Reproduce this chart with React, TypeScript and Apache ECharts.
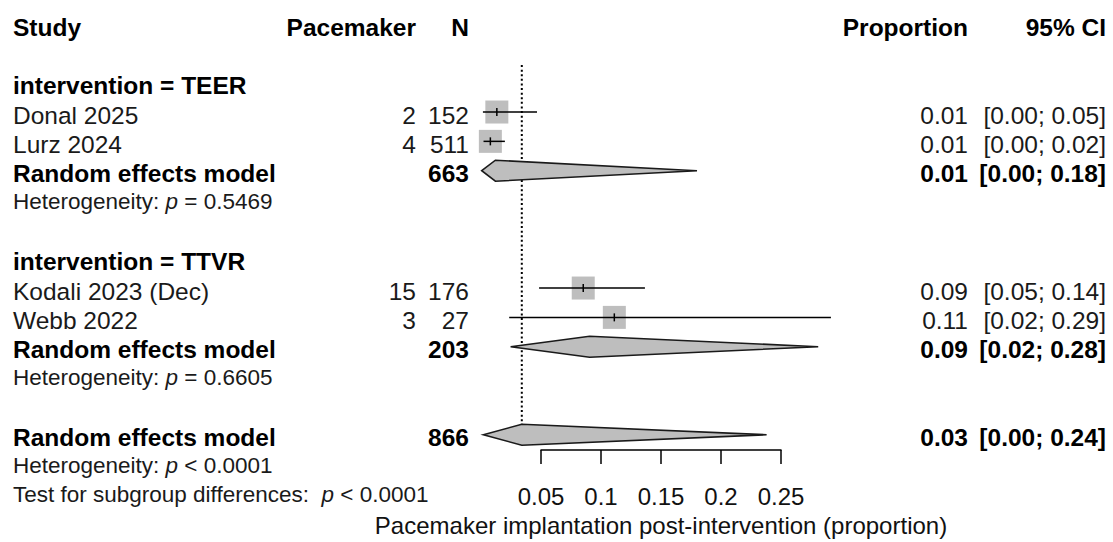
import React, { useEffect, useRef } from "react";
import * as echarts from "echarts";

// ---------- data ----------
const headerLabels = ["Study", "Pacemaker", "N", "Proportion", "95% CI"];
const headerRow = 1;

const groupLabels = ["intervention = TEER", "intervention = TTVR"];
const groupRows = [3, 9];

const studyNames = ["Donal 2025", "Lurz 2024", "Kodali 2023 (Dec)", "Webb 2022"];
const studyEvents = [2, 4, 15, 3];
const studyTotals = [152, 511, 176, 27];
const studyProps = [0.0132, 0.0078, 0.0852, 0.1111];
const studyLower = [0.0016, 0.0021, 0.0484, 0.0235];
const studyUpper = [0.0467, 0.0199, 0.1366, 0.2916];
const studyRows = [4, 5, 10, 11];

const pooledNames = ["Random effects model", "Random effects model", "Random effects model"];
const pooledTotals = [663, 203, 866];
const pooledProps = [0.012, 0.0905, 0.034];
const pooledLower = [0.0006, 0.0247, 0.002];
const pooledUpper = [0.18, 0.281, 0.238];
const pooledRows = [6, 12, 15];

const hetTexts = [
  "Heterogeneity: {i|p} = 0.5469",
  "Heterogeneity: {i|p} = 0.6605",
  "Heterogeneity: {i|p} < 0.0001",
  "Test for subgroup differences:  {i|p} < 0.0001",
];
const hetRows = [7, 13, 16, 17];

const xMin = 0.05;
const xMax = 0.25;
const xInterval = 0.05;
const axisTitle = "Pacemaker implantation post-intervention (proportion)";
const refLineRows = [2.4, 14.66];

// ---------- layout ----------
const FONT = "'Liberation Sans', Arial, sans-serif";
const colX = { study: 13, events: 416, n: 469, prop: 968, ci: 1106 };

type Cell = { row: number; col: keyof typeof colX; text: string; bold?: boolean; size?: number; rich?: boolean; dy?: number };

function buildCells(): Cell[] {
  const cells: Cell[] = [];
  const cols: (keyof typeof colX)[] = ["study", "events", "n", "prop", "ci"];
  headerLabels.forEach((t, i) => cells.push({ row: headerRow, col: cols[i], text: t, bold: true }));
  groupLabels.forEach((t, i) => cells.push({ row: groupRows[i], col: "study", text: t, bold: true }));
  studyNames.forEach((t, i) => {
    const r = studyRows[i];
    cells.push({ row: r, col: "study", text: t });
    cells.push({ row: r, col: "events", text: String(studyEvents[i]) });
    cells.push({ row: r, col: "n", text: String(studyTotals[i]) });
    cells.push({ row: r, col: "prop", text: studyProps[i].toFixed(2) });
    cells.push({ row: r, col: "ci", text: `[${studyLower[i].toFixed(2)}; ${studyUpper[i].toFixed(2)}]` });
  });
  pooledNames.forEach((t, i) => {
    const r = pooledRows[i];
    cells.push({ row: r, col: "study", text: t, bold: true });
    cells.push({ row: r, col: "n", text: String(pooledTotals[i]), bold: true });
    cells.push({ row: r, col: "prop", text: pooledProps[i].toFixed(2), bold: true });
    cells.push({ row: r, col: "ci", text: `[${pooledLower[i].toFixed(2)}; ${pooledUpper[i].toFixed(2)}]`, bold: true });
  });
  hetTexts.forEach((t, i) => cells.push({ row: hetRows[i], col: "study", text: t, size: 22.5, rich: true, dy: 1 }));
  return cells;
}

export default function App() {
  const ref = useRef<HTMLDivElement>(null);
  useEffect(() => {
    if (!ref.current) return;
    const chart = echarts.init(ref.current, undefined, { renderer: "svg" });
    const cells = buildCells();
    const rowH = 29.4;
    const top = 24;
    const bottom = 542 - 451;
    const yMaxRow = 1 + (542 - bottom - top) / rowH;

    const studyData = studyNames.map((_, i) => [studyProps[i], studyLower[i], studyUpper[i], studyRows[i]]);
    const pooledData = pooledNames.map((_, i) => [pooledProps[i], pooledLower[i], pooledUpper[i], pooledRows[i]]);

    const option: any = {
      animation: false,
      backgroundColor: "#ffffff",
      grid: { left: 541, right: 1113 - 781, top, bottom, containLabel: false },
      xAxis: {
        type: "value",
        min: xMin,
        max: xMax,
        interval: xInterval,
        axisLine: { show: true, onZero: false, lineStyle: { color: "#000", width: 1.5 } },
        axisTick: { show: true, length: 14, inside: false, lineStyle: { color: "#000", width: 1.5 } },
        axisLabel: { fontSize: 24, color: "#111", margin: 34, fontFamily: FONT },
        splitLine: { show: false },
        name: axisTitle,
        nameLocation: "middle",
        nameGap: 61,
        nameTextStyle: { fontSize: 24, color: "#111", fontFamily: FONT },
      },
      yAxis: { type: "value", min: 1, max: yMaxRow, inverse: true, show: false },
      series: [
        {
          type: "custom",
          name: "reference",
          clip: false,
          silent: true,
          data: [[pooledProps[2], refLineRows[0], refLineRows[1]]],
          encode: { x: 0, y: 1 },
          renderItem: (params: any, api: any) => {
            const a = api.coord([api.value(0), api.value(1)]);
            const b = api.coord([api.value(0), api.value(2)]);
            return {
              type: "line",
              shape: { x1: a[0], y1: a[1], x2: b[0], y2: b[1] },
              style: { stroke: "#000", lineWidth: 2, lineDash: [2, 2.6] },
            };
          },
        },
        {
          type: "custom",
          name: "studies",
          clip: false,
          silent: true,
          data: studyData,
          encode: { x: 0, y: 3 },
          renderItem: (params: any, api: any) => {
            const row = api.value(3);
            const c = api.coord([api.value(0), row]);
            const l = api.coord([api.value(1), row]);
            const h = api.coord([api.value(2), row]);
            const s = 23;
            return {
              type: "group",
              children: [
                { type: "rect", shape: { x: c[0] - s / 2, y: c[1] - s / 2, width: s, height: s }, style: { fill: "#bebebe" } },
                { type: "line", shape: { x1: l[0], y1: c[1], x2: h[0], y2: c[1] }, style: { stroke: "#000", lineWidth: 1.5 } },
                { type: "line", shape: { x1: c[0], y1: c[1] - 4, x2: c[0], y2: c[1] + 4 }, style: { stroke: "#000", lineWidth: 1.5 } },
              ],
            };
          },
        },
        {
          type: "custom",
          name: "pooled",
          clip: false,
          silent: true,
          data: pooledData,
          encode: { x: 0, y: 3 },
          renderItem: (params: any, api: any) => {
            const row = api.value(3);
            const c = api.coord([api.value(0), row]);
            const l = api.coord([api.value(1), row]);
            const h = api.coord([api.value(2), row]);
            const hh = 10.5;
            return {
              type: "polygon",
              shape: { points: [[l[0], c[1]], [c[0], c[1] - hh], [h[0], c[1]], [c[0], c[1] + hh]] },
              style: { fill: "#bebebe", stroke: "#1a1a1a", lineWidth: 1.6 },
            };
          },
        },
        {
          type: "custom",
          name: "table",
          clip: false,
          silent: true,
          data: cells.map((c) => [0.1, c.row]),
          encode: { x: 0, y: 1 },
          renderItem: (params: any, api: any) => {
            const cell = cells[params.dataIndex];
            const p = api.coord([0.1, cell.row]);
            const align = cell.col === "study" ? "left" : "right";
            const fs = cell.size || 24.5;
            const style: any = {
              text: cell.text,
              x: 0,
              y: 0,
              align,
              verticalAlign: "middle",
              fontSize: fs,
              fontFamily: FONT,
              fontWeight: cell.bold ? "bold" : "normal",
              fill: cell.bold ? "#000" : "#1a1a1a",
            };
            if (cell.rich) {
              style.rich = { i: { fontStyle: "italic", fontSize: fs, fontFamily: FONT, fill: "#1a1a1a" } };
            }
            return { type: "text", x: colX[cell.col], y: p[1] + (cell.dy ?? 3), style };
          },
        },
      ],
    };
    chart.setOption(option);
    return () => chart.dispose();
  }, []);
  return <div ref={ref} style={{ position: "absolute", left: 0, top: 0, width: 1113, height: 542 }} />;
}
